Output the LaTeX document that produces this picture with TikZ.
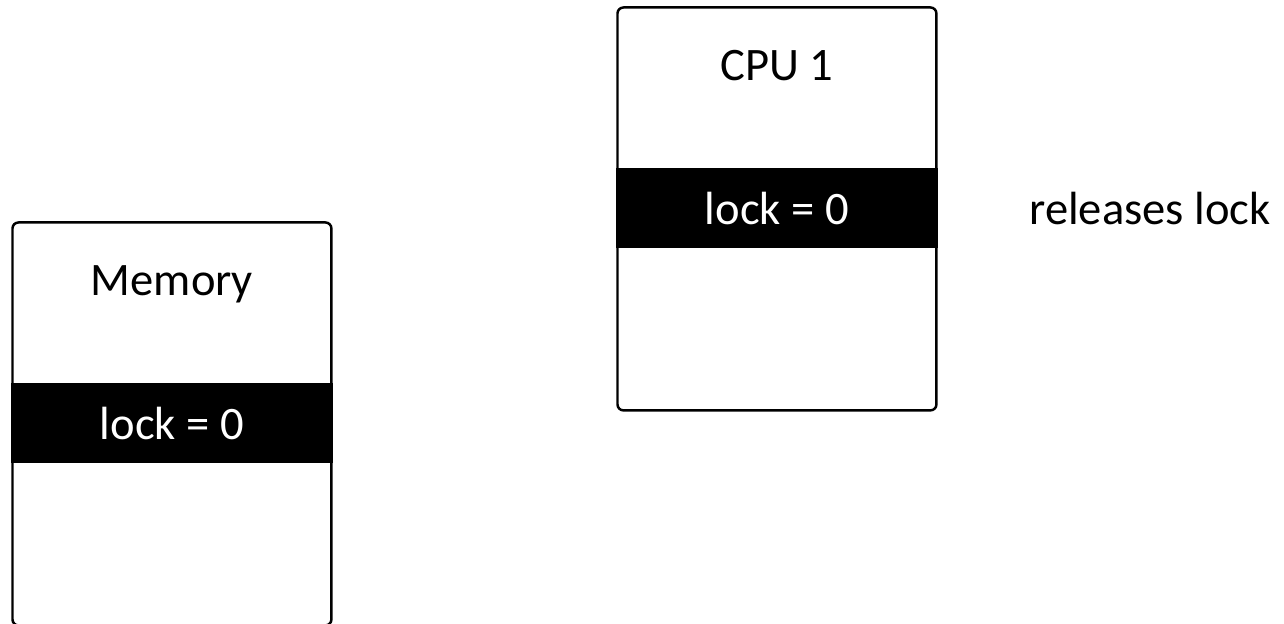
\documentclass[tikz,border=0pt]{standalone}
\usepackage{fontspec}
\setmainfont{Carlito}
\usetikzlibrary{positioning}

\begin{document}
\begin{tikzpicture}[x=0.02cm, y=-0.02cm]

\tikzset{
    boite/.style = {
    draw, line width=1.4pt, rounded corners=0.12cm,
    minimum width=6.38cm, minimum height=8.06cm, inner sep=0pt
    }
}

\tikzstyle{bande}=[fill=black, text=white, inner sep=0pt, minimum width=6.43cm, minimum height=1.6cm, font=\fontsize{26.5}{32}\selectfont]
\tikzstyle{titre}=[inner sep=0pt, font=\fontsize{26.5}{32}\selectfont]

\useasboundingbox (0,0) rectangle (1284,624);
\clip (0,0) rectangle (1284,624);

% memoire
\node (mem) [boite, anchor=north west] at (11.25,221.25) {};
\node (mem-titre) [titre, anchor=base] at ([yshift=-1.48cm]mem.north) {Memory};
\node (mem-lock) [bande, anchor=north] at ([yshift=-3.235cm]mem.north) {lock = 0};

% processeur
\node (cpu) [boite, anchor=north west] at (616.25,6.25) {};
\node (cpu-titre) [titre, anchor=base] at ([yshift=-1.48cm]cpu.north) {CPU 1};
\node (cpu-lock) [bande, anchor=north] at ([yshift=-3.235cm]cpu.north) {lock = 0};

\node (releases) [titre, right=1.82cm of cpu-lock] {releases lock};

\end{tikzpicture}
\end{document}
